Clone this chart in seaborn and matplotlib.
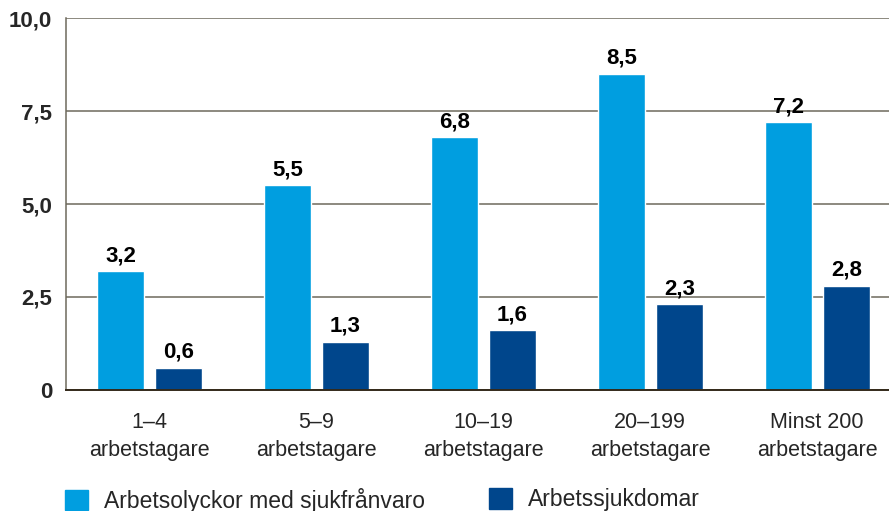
import matplotlib
matplotlib.use("Agg")
import matplotlib.pyplot as plt
import seaborn as sns
import pandas as pd
from matplotlib.patches import Patch

categories = ["1–4\narbetstagare", "5–9\narbetstagare", "10–19\narbetstagare",
              "20–199\narbetstagare", "Minst 200\narbetstagare"]
series_names = ["Arbetsolyckor med sjukfrånvaro", "Arbetssjukdomar"]
olyckor = [3.2, 5.5, 6.8, 8.5, 7.2]
sjukdomar = [0.6, 1.3, 1.6, 2.3, 2.8]
yticks = [0, 2.5, 5.0, 7.5, 10.0]
ytick_labels = ["0", "2,5", "5,0", "7,5", "10,0"]
colors = ["#009EE0", "#00468C"]

df = pd.DataFrame({
    "kategori": categories * 2,
    "serie": [series_names[0]] * len(categories) + [series_names[1]] * len(categories),
    "värde": olyckor + sjukdomar,
})

sns.set_style("white")
plt.rcParams["font.family"] = ["Liberation Sans", "DejaVu Sans"]

fig = plt.figure(figsize=(8.89, 5.11), dpi=100)
ax = fig.add_axes([66 / 889, 1 - 390 / 511, 1 - 66 / 889, (390 - 18) / 511])

sns.barplot(data=df, x="kategori", y="värde", hue="serie", order=categories,
            hue_order=series_names, palette=colors, width=0.695, gap=0.19,
            saturation=1, legend=False, ax=ax, zorder=3)

for cont, vals in zip(ax.containers, [olyckor, sjukdomar]):
    ax.bar_label(cont, labels=[f"{v:.1f}".replace(".", ",") for v in vals],
                 padding=3.5, fontsize=16, fontweight="bold", color="black")

ax.set_xlim(-0.5, 4.43)
ax.set_ylim(0, 10)
ax.set_yticks(yticks)
ax.set_yticklabels(ytick_labels, fontsize=16, fontweight="bold")
ax.tick_params(axis="y", length=0, pad=10)
ax.tick_params(axis="x", length=0, pad=16, labelsize=15.5)
for lbl in ax.get_xticklabels():
    lbl.set_linespacing(1.4)
ax.set_xlabel("")
ax.set_ylabel("")

ax.yaxis.grid(True, color="#6e6a5c", linewidth=1.1, zorder=0)
ax.set_axisbelow(True)
for s in ["top", "right"]:
    ax.spines[s].set_visible(False)
ax.spines["left"].set_color("#6e6a5c")
ax.spines["left"].set_linewidth(1.1)
ax.spines["bottom"].set_color("#33291a")
ax.spines["bottom"].set_linewidth(1.4)
ax.spines["bottom"].set_zorder(4)

fig.legend(handles=[Patch(color=colors[0])], labels=[series_names[0]],
           loc="upper left", bbox_to_anchor=(65 / 889, 1 - 488 / 511),
           frameon=False, fontsize=16.5, handlelength=1.0, handleheight=1.0,
           handletextpad=0.7, borderpad=0, borderaxespad=0)
fig.legend(handles=[Patch(color=colors[1])], labels=[series_names[1]],
           loc="upper left", bbox_to_anchor=(489 / 889, 1 - 488 / 511),
           frameon=False, fontsize=16.5, handlelength=1.0, handleheight=1.0,
           handletextpad=0.7, borderpad=0, borderaxespad=0)

fig.savefig("out.png", dpi=100)
